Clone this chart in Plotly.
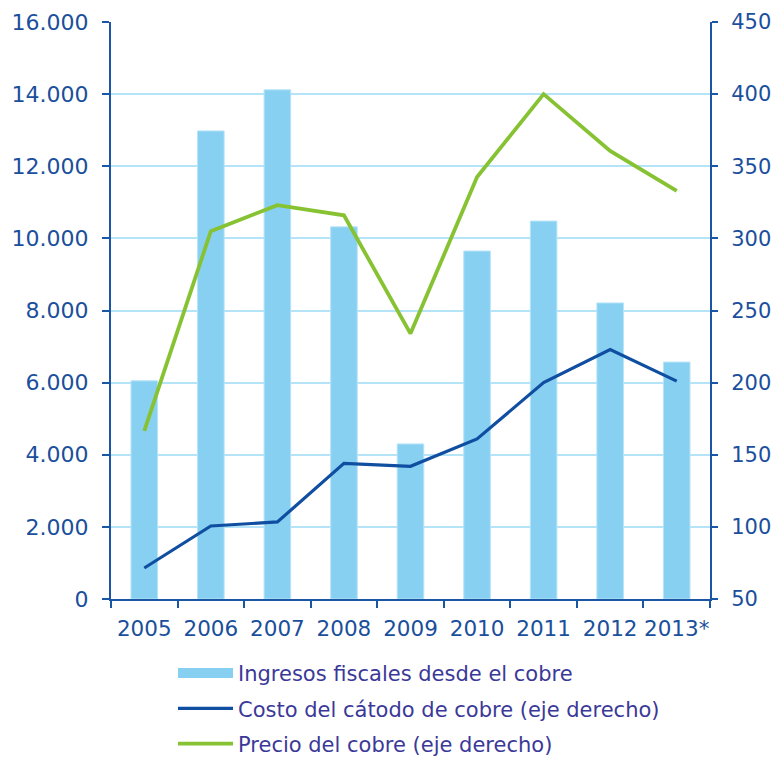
import plotly.graph_objects as go

years = ["2005", "2006", "2007", "2008", "2009", "2010", "2011", "2012", "2013*"]
ingresos = [6050, 12980, 14120, 10320, 4300, 9650, 10480, 8210, 6570]
costo = [71.5, 100.6, 103.4, 144, 142, 161, 200, 223, 201]
precio = [166.5, 305, 323, 316, 234, 342.5, 400, 360.6, 333]

bar_col = "#88d0f2"
axis_col = "#1b56a4"
ytick_font = dict(family="DejaVu Sans", size=22, color="#1a4f9c")
y2tick_font = dict(family="DejaVu Sans", size=21, color="#1a4f9c")
xtick_font = dict(family="DejaVu Sans", size=21.5, color="#1a4f9c")

fig = go.Figure()
fig.add_trace(go.Bar(
    x=years, y=ingresos, name="Ingresos fiscales desde el cobre",
    marker=dict(color=bar_col, line=dict(color="#b8e4f8", width=1)),
    yaxis="y", showlegend=False,
))
# legend entry for the bars, drawn as a wide band
fig.add_trace(go.Scatter(
    x=[None], y=[None], name="Ingresos fiscales desde el cobre",
    mode="lines", line=dict(color=bar_col, width=14), yaxis="y",
    legendgroup="a",
))
fig.add_trace(go.Scatter(
    x=years, y=costo, name="Costo del cátodo de cobre (eje derecho)",
    mode="lines", line=dict(color="#0f4ea0", width=3.2), yaxis="y2",
    legendgroup="b",
))
fig.add_trace(go.Scatter(
    x=years, y=precio, name="Precio del cobre (eje derecho)",
    mode="lines", line=dict(color="#86c232", width=3.8), yaxis="y2",
    legendgroup="c",
))

fig.update_layout(
    width=771, height=749,
    margin=dict(l=103, r=69, t=14, b=158, autoexpand=False),
    plot_bgcolor="white", paper_bgcolor="white",
    separators=",.",
    bargap=0.6,
    showlegend=True,
    legend=dict(
        x=0.1035, y=-0.0935, xanchor="left", yanchor="top",
        font=dict(family="DejaVu Sans", size=21, color="#3b3998"),
        bgcolor="rgba(0,0,0,0)", tracegroupgap=5,
        itemwidth=55,
    ),
    xaxis=dict(
        type="category", tickson="boundaries", automargin=False,
        tickangle=0, ticklabelstandoff=9,
        showline=True, linecolor=axis_col, linewidth=2,
        ticks="outside", ticklen=7, tickcolor=axis_col, tickwidth=1.5,
        tickfont=xtick_font, showgrid=False,
    ),
    yaxis=dict(
        range=[0, 16000], dtick=2000, tickformat=",d", separatethousands=True,
        automargin=False, ticklabelstandoff=9,
        showline=True, linecolor=axis_col, linewidth=2,
        ticks="outside", ticklen=7, tickcolor=axis_col, tickwidth=1.5,
        tickfont=ytick_font,
        showgrid=True, gridcolor="#b5e3f7", gridwidth=2,
        zeroline=False,
    ),
    yaxis2=dict(
        range=[50, 450], dtick=50, overlaying="y", side="right",
        automargin=False, ticklabelstandoff=9,
        showline=True, linecolor=axis_col, linewidth=2,
        ticks="outside", ticklen=6, tickcolor=axis_col, tickwidth=1.5,
        tickfont=y2tick_font, showgrid=False, zeroline=False,
    ),
)

fig.write_html("out.html")
